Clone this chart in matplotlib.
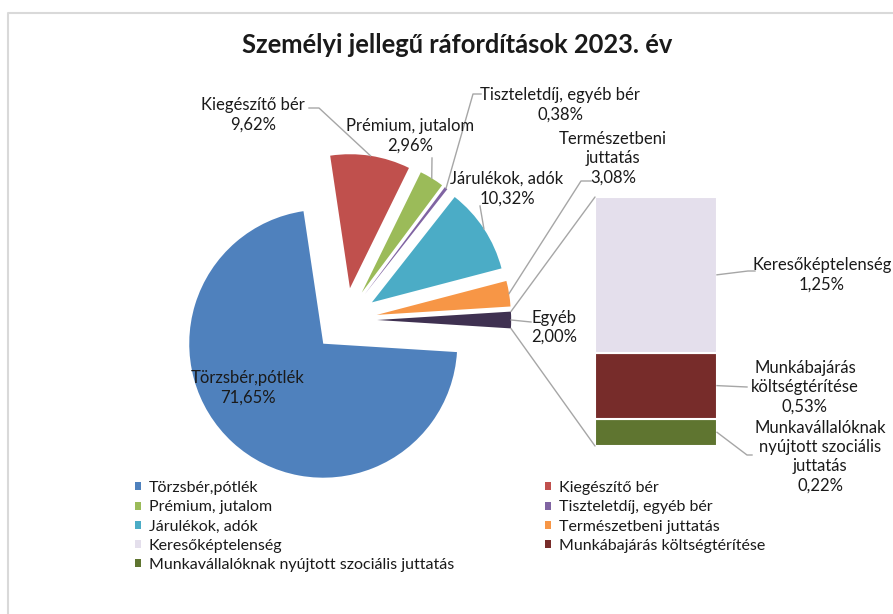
import numpy as np
import matplotlib
matplotlib.use('Agg')
import matplotlib.pyplot as plt
from matplotlib.patches import ConnectionPatch, Patch

plt.rcParams['font.family'] = ['Lato', 'DejaVu Sans']

title = 'Személyi jellegű ráfordítások 2023. év'

# main pie
pie_labels = ['Törzsbér,pótlék', 'Kiegészítő bér', 'Prémium, jutalom', 'Tiszteletdíj, egyéb bér',
              'Járulékok, adók', 'Természetbeni juttatás', 'Egyéb']
pie_values = [71.65, 9.62, 2.96, 0.38, 10.32, 3.08, 2.00]
pie_colors = ['#4F81BD', '#C0504D', '#9BBB59', '#8064A2', '#4BACC6', '#F79646', '#3F3151']

# breakdown of "Egyéb" (bar of pie)
bar_labels = ['Keresőképtelenség', 'Munkábajárás költségtérítése',
              'Munkavállalóknak nyújtott szociális juttatás']
bar_values = [1.25, 0.53, 0.22]
bar_colors = ['#E4DFEC', '#772C2A', '#5F7530']

# how the data labels are wrapped in the chart
pie_label_wrap = ['Törzsbér,pótlék', 'Kiegészítő bér', 'Prémium, jutalom', 'Tiszteletdíj, egyéb bér',
                  'Járulékok, adók', 'Természetbeni\njuttatás', 'Egyéb']
bar_label_wrap = ['Keresőképtelenség', 'Munkábajárás\nköltségtérítése',
                  'Munkavállalóknak\nnyújtott szociális\njuttatás']


def pct(v):
    return ('%.2f' % v).replace('.', ',') + '%'


W, H = 893, 614
fig = plt.figure(figsize=(W / 100, H / 100), dpi=100)

# overlay in pixel coordinates (y down) for texts and leader lines
over = fig.add_axes([0, 0, 1, 1])
over.set_xlim(0, W)
over.set_ylim(H, 0)
over.axis('off')
over.patch.set_visible(False)
over.set_zorder(5)

# pie axes: centre and radius in pixels
R, cx, cy, lim = 134, 345, 320, 1.6
side = 2 * lim * R
pie_ax = fig.add_axes([(cx - side / 2) / W, (H - cy - side / 2) / H, side / W, side / H])
start = -pie_values[-1] / sum(pie_values) * 360 / 2
wedges, _ = pie_ax.pie(pie_values, colors=pie_colors, startangle=start, counterclock=False,
                       explode=[0.24] * len(pie_values), wedgeprops=dict(linewidth=0))
pie_ax.set_xlim(-lim, lim)
pie_ax.set_ylim(-lim, lim)

# stacked bar for the "Egyéb" part
bar_ax = fig.add_axes([595 / W, (H - 446) / H, 122 / W, 249 / H])
bar_ax.axis('off')
bar_ax.set_xlim(-0.5, 0.5)
bar_ax.set_ylim(0, sum(bar_values))
bottom = 0
bar_mids = {}
for i in reversed(range(len(bar_values))):
    bar_ax.bar(0, bar_values[i], width=1, bottom=bottom, color=bar_colors[i],
               edgecolor='white', linewidth=1.5)
    bar_mids[i] = bottom + bar_values[i] / 2
    bottom += bar_values[i]


def to_px(ax, pt):
    x, y = ax.transData.transform(pt)
    return x, H - y


# lines from the Egyéb slice to the bar
eg = wedges[-1]
for ang, yb in [(eg.theta2, sum(bar_values)), (eg.theta1, 0)]:
    pa = (eg.center[0] + eg.r * np.cos(np.radians(ang)), eg.center[1] + eg.r * np.sin(np.radians(ang)))
    con = ConnectionPatch(xyA=pa, coordsA=pie_ax.transData, xyB=(-0.5, yb), coordsB=bar_ax.transData,
                          color='#A6A6A6', linewidth=1)
    fig.add_artist(con)

# pie data labels: text centre and leader points in pixels
pie_text_pos = [(248, 388), (253, 115), (410, 136), (560, 105), (507, 188.5), (613, 158.5), (554, 327.5)]
pie_leaders = [None, [(309, 108), (319, 108)], [(432, 158)], [(481, 94), (473, 94)],
               [(480, 206)], [(591, 181), (581, 181)], [(531, 322)]]

lc = '#A6A6A6'
fs = 12
for i, w in enumerate(wedges):
    over.text(pie_text_pos[i][0], pie_text_pos[i][1], pie_label_wrap[i] + '\n' + pct(pie_values[i]),
              ha='center', va='center', fontsize=fs, linespacing=1.25, color='#1a1a1a')
    if pie_leaders[i]:
        tm = np.radians((w.theta1 + w.theta2) / 2)
        anchor = to_px(pie_ax, (w.center[0] + w.r * np.cos(tm), w.center[1] + w.r * np.sin(tm)))
        pts = pie_leaders[i] + [anchor]
        over.plot([p[0] for p in pts], [p[1] for p in pts], color=lc, linewidth=1)

bar_text_pos = [(822, 275), (805, 387), (820, 456.5)]
bar_leaders = [[(755, 271), (748, 271)], [(747, 387)], [(752, 455), (747, 455)]]
for i in range(len(bar_values)):
    over.text(bar_text_pos[i][0], bar_text_pos[i][1], bar_label_wrap[i] + '\n' + pct(bar_values[i]),
              ha='center', va='center', fontsize=fs, linespacing=1.25, color='#1a1a1a')
    anchor = to_px(bar_ax, (0.5, bar_mids[i]))
    pts = bar_leaders[i] + [anchor]
    over.plot([p[0] for p in pts], [p[1] for p in pts], color=lc, linewidth=1)

# title
over.text(457, 45, title, ha='center', va='center', fontsize=18.4, fontweight='bold', color='#1a1a1a')

# chart border (only top and left visible)
over.plot([8, 8, W + 5], [H + 5, 13, 13], color='#D9D9D9', linewidth=1.5)

# legend, row-wise in two columns
leg_labels = pie_labels[:-1] + bar_labels
leg_colors = pie_colors[:-1] + bar_colors
handles = [Patch(facecolor=c, label=l) for l, c in zip(leg_labels, leg_colors)]
for col, x0 in [(0, 135), (1, 545)]:
    leg = fig.legend(handles=handles[col::2], loc='upper left', bbox_to_anchor=(x0, 481),
                     bbox_transform=over.transData, frameon=False, fontsize=11.5,
                     borderpad=0, borderaxespad=0, handlelength=0.4, handleheight=0.4,
                     handletextpad=0.45, labelspacing=0.33)
    for t in leg.get_texts():
        t.set_color('#1a1a1a')

fig.savefig('out.png', dpi=100)
